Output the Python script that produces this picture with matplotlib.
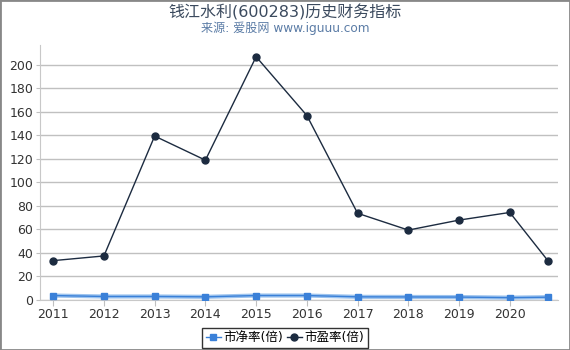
import matplotlib.pyplot as plt
from matplotlib.patches import Rectangle

plt.rcParams['font.family'] = ['DejaVu Sans', 'Noto Sans CJK SC']

x = [2011, 2012, 2013, 2014, 2015, 2016, 2017, 2018, 2019, 2020, 2020.75]
pb = [3.8, 3.0, 3.0, 2.7, 3.8, 3.8, 2.7, 2.6, 2.5, 2.0, 2.4]
pe = [33.5, 37.5, 139.5, 119, 207, 157, 73.8, 59.5, 68, 74.5, 33.5]
years = [2011, 2012, 2013, 2014, 2015, 2016, 2017, 2018, 2019, 2020]

fig = plt.figure(figsize=(5.7, 3.5), dpi=100)
ax = fig.add_axes([40 / 570, 1 - 300 / 350, 518 / 570, 255 / 350])

ax.plot(x, pb, color='#9cc3ee', lw=3, zorder=3)
ax.plot(x, pb, color='#3a80d8', lw=1, marker='s', ms=5, label='市净率(倍)', zorder=4)
ax.plot(x, pe, color='#1c2b40', lw=1, marker='o', ms=5, label='市盈率(倍)', zorder=4)

ax.set_xlim(2010.74, 2020.95)
ax.set_ylim(0, 217)
ax.set_yticks(range(0, 201, 20))
ax.set_xticks(years)
ax.grid(axis='y', color='#c0c0c0', lw=1)
ax.set_axisbelow(True)
for s in ['top', 'right']:
    ax.spines[s].set_visible(False)
ax.spines['left'].set_color('#c8c8c8')
ax.spines['bottom'].set_color('#c8c8c8')
ax.tick_params(axis='y', length=3, color='#c0c0c0', labelsize=9, labelcolor='#333333', pad=2)
ax.tick_params(axis='x', length=4, color='#c0c0c0', labelsize=9, labelcolor='#333333', pad=2)

fig.text(0.5, 0.965, '钱江水利(600283)历史财务指标', ha='center', va='center',
         fontsize=11.5, color='#3b4a5e')
fig.text(0.5, 0.918, '来源: 爱股网 www.iguuu.com', ha='center', va='center',
         fontsize=8.7, color='#5b7ca6')

leg = fig.legend(loc='center', bbox_to_anchor=(0.5, 0.035), ncol=2, fontsize=9,
                 frameon=True, fancybox=False, edgecolor='black', handlelength=1.2,
                 handletextpad=0.2, columnspacing=0.3, borderpad=0.3, borderaxespad=0)
leg.get_frame().set_linewidth(1)

fig.patches.append(Rectangle((0, 0), 1, 1, transform=fig.transFigure, fill=False,
                             edgecolor='#888888', lw=2))

fig.savefig('out.png', dpi=100)
